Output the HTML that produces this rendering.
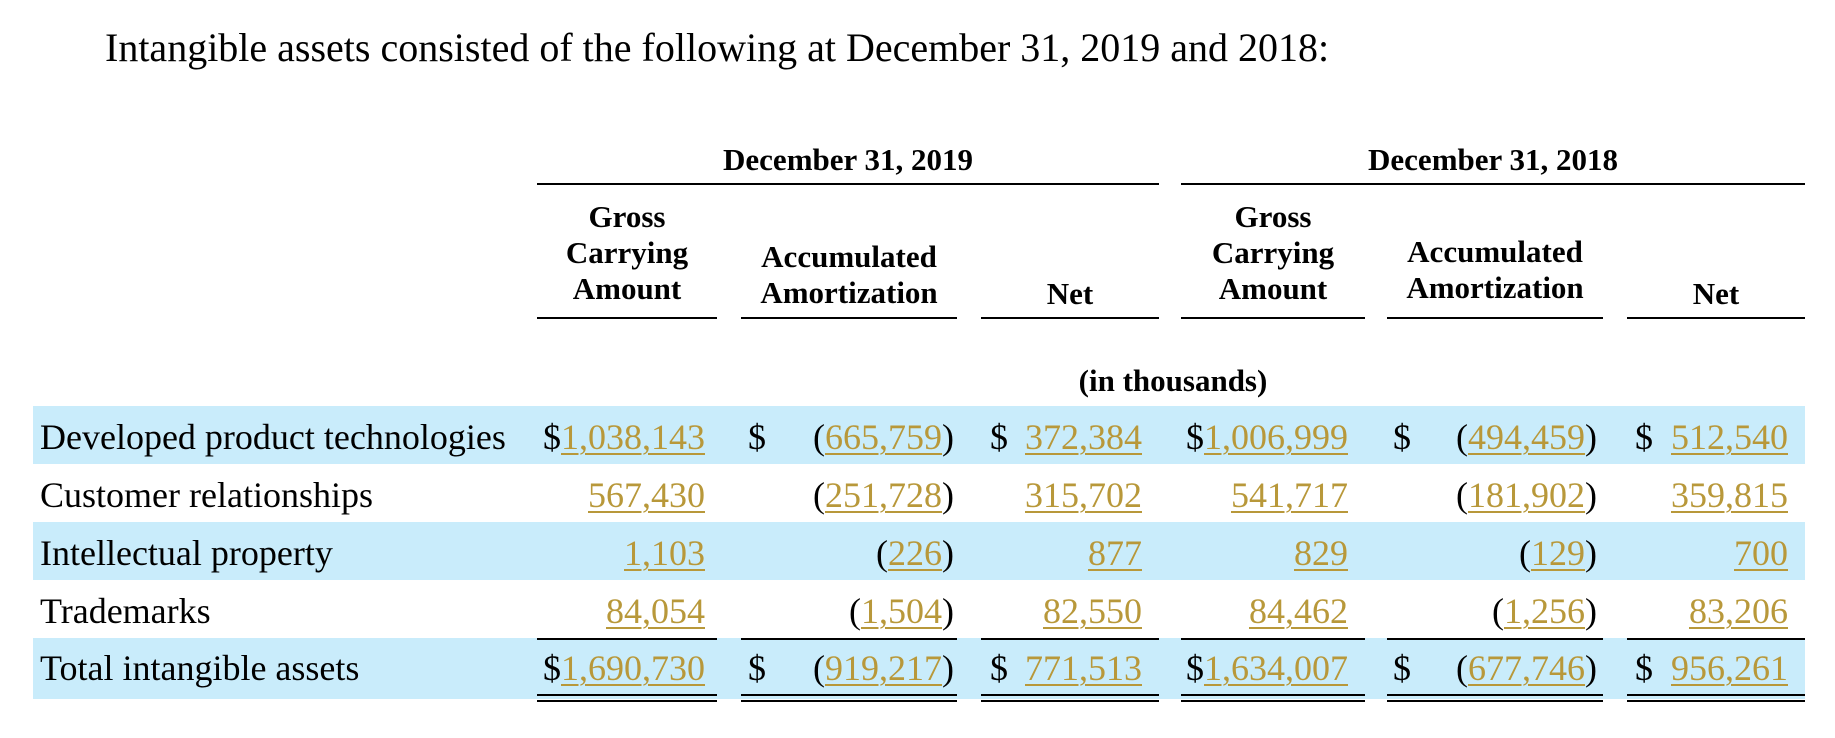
<!DOCTYPE html>
<html><head><style>
body{margin:0;width:1835px;height:738px;background:#fff;position:relative;font-family:"Liberation Serif",serif;color:#000;overflow:hidden}
.a{position:absolute;white-space:nowrap}
.t{font-size:40px;left:105px;top:24px}
.h{font-weight:bold;font-size:31px;text-align:center;line-height:36px}
.ln{position:absolute;height:2px;background:#000}
.band{position:absolute;left:33px;width:1772px;background:#c9ecfb}
.r{font-size:36px;line-height:40px}
.n{color:#b8983a;text-decoration:underline;text-decoration-thickness:2px;text-underline-offset:4px}
.v{position:absolute;text-align:right;font-size:36px;line-height:40px;white-space:nowrap}
</style></head><body>
<div class="a t">Intangible assets consisted of the following at December 31, 2019 and 2018:</div>

<div class="a h" style="left:537px;width:622px;top:142px">December 31, 2019</div>
<div class="a h" style="left:1181px;width:624px;top:142px">December 31, 2018</div>
<div class="ln" style="left:537px;width:622px;top:183px"></div>
<div class="ln" style="left:1181px;width:624px;top:183px"></div>

<div class="a h" style="left:537px;width:180px;top:199px">Gross<br>Carrying<br>Amount</div>
<div class="a h" style="left:741px;width:216px;top:239px">Accumulated<br>Amortization</div>
<div class="a h" style="left:981px;width:178px;top:276px">Net</div>
<div class="a h" style="left:1181px;width:184px;top:199px">Gross<br>Carrying<br>Amount</div>
<div class="a h" style="left:1387px;width:216px;top:234px">Accumulated<br>Amortization</div>
<div class="a h" style="left:1627px;width:178px;top:276px">Net</div>
<div class="ln" style="left:537px;width:180px;top:317px"></div>
<div class="ln" style="left:741px;width:216px;top:317px"></div>
<div class="ln" style="left:981px;width:178px;top:317px"></div>
<div class="ln" style="left:1181px;width:184px;top:317px"></div>
<div class="ln" style="left:1387px;width:216px;top:317px"></div>
<div class="ln" style="left:1627px;width:178px;top:317px"></div>
<div class="a h" style="left:1000px;width:346px;top:363px">(in thousands)</div>

<div class="band" style="top:406px;height:58px"></div>
<div class="band" style="top:522px;height:58px"></div>
<div class="band" style="top:638px;height:61px"></div>

<div class="ln" style="left:537px;width:180px;top:638px"></div>
<div class="ln" style="left:741px;width:216px;top:638px"></div>
<div class="ln" style="left:981px;width:178px;top:638px"></div>
<div class="ln" style="left:1181px;width:184px;top:638px"></div>
<div class="ln" style="left:1387px;width:216px;top:638px"></div>
<div class="ln" style="left:1627px;width:178px;top:638px"></div>
<div class="ln" style="left:537px;width:180px;top:694px"></div>
<div class="ln" style="left:741px;width:216px;top:694px"></div>
<div class="ln" style="left:981px;width:178px;top:694px"></div>
<div class="ln" style="left:1181px;width:184px;top:694px"></div>
<div class="ln" style="left:1387px;width:216px;top:694px"></div>
<div class="ln" style="left:1627px;width:178px;top:694px"></div>
<div class="ln" style="left:537px;width:180px;top:700px"></div>
<div class="ln" style="left:741px;width:216px;top:700px"></div>
<div class="ln" style="left:981px;width:178px;top:700px"></div>
<div class="ln" style="left:1181px;width:184px;top:700px"></div>
<div class="ln" style="left:1387px;width:216px;top:700px"></div>
<div class="ln" style="left:1627px;width:178px;top:700px"></div>

<!-- Row 1 -->
<div class="a r" style="left:40px;top:417px">Developed product technologies</div>
<div class="v" style="right:1130px;top:417px">$<span class="n">1,038,143</span></div>
<div class="a r" style="left:748px;top:417px">$</div>
<div class="v" style="right:881px;top:417px">(<span class="n">665,759</span>)</div>
<div class="a r" style="left:990px;top:417px">$</div>
<div class="v" style="right:693px;top:417px"><span class="n">372,384</span></div>
<div class="v" style="right:487px;top:417px">$<span class="n">1,006,999</span></div>
<div class="a r" style="left:1393px;top:417px">$</div>
<div class="v" style="right:238px;top:417px">(<span class="n">494,459</span>)</div>
<div class="a r" style="left:1635px;top:417px">$</div>
<div class="v" style="right:47px;top:417px"><span class="n">512,540</span></div>

<!-- Row 2 -->
<div class="a r" style="left:40px;top:475px">Customer relationships</div>
<div class="v" style="right:1130px;top:475px"><span class="n">567,430</span></div>
<div class="v" style="right:881px;top:475px">(<span class="n">251,728</span>)</div>
<div class="v" style="right:693px;top:475px"><span class="n">315,702</span></div>
<div class="v" style="right:487px;top:475px"><span class="n">541,717</span></div>
<div class="v" style="right:238px;top:475px">(<span class="n">181,902</span>)</div>
<div class="v" style="right:47px;top:475px"><span class="n">359,815</span></div>

<!-- Row 3 -->
<div class="a r" style="left:40px;top:533px">Intellectual property</div>
<div class="v" style="right:1130px;top:533px"><span class="n">1,103</span></div>
<div class="v" style="right:881px;top:533px">(<span class="n">226</span>)</div>
<div class="v" style="right:693px;top:533px"><span class="n">877</span></div>
<div class="v" style="right:487px;top:533px"><span class="n">829</span></div>
<div class="v" style="right:238px;top:533px">(<span class="n">129</span>)</div>
<div class="v" style="right:47px;top:533px"><span class="n">700</span></div>

<!-- Row 4 -->
<div class="a r" style="left:40px;top:591px">Trademarks</div>
<div class="v" style="right:1130px;top:591px"><span class="n">84,054</span></div>
<div class="v" style="right:881px;top:591px">(<span class="n">1,504</span>)</div>
<div class="v" style="right:693px;top:591px"><span class="n">82,550</span></div>
<div class="v" style="right:487px;top:591px"><span class="n">84,462</span></div>
<div class="v" style="right:238px;top:591px">(<span class="n">1,256</span>)</div>
<div class="v" style="right:47px;top:591px"><span class="n">83,206</span></div>

<!-- Row 5 -->
<div class="a r" style="left:40px;top:648px">Total intangible assets</div>
<div class="v" style="right:1130px;top:648px">$<span class="n">1,690,730</span></div>
<div class="a r" style="left:748px;top:648px">$</div>
<div class="v" style="right:881px;top:648px">(<span class="n">919,217</span>)</div>
<div class="a r" style="left:990px;top:648px">$</div>
<div class="v" style="right:693px;top:648px"><span class="n">771,513</span></div>
<div class="v" style="right:487px;top:648px">$<span class="n">1,634,007</span></div>
<div class="a r" style="left:1393px;top:648px">$</div>
<div class="v" style="right:238px;top:648px">(<span class="n">677,746</span>)</div>
<div class="a r" style="left:1635px;top:648px">$</div>
<div class="v" style="right:47px;top:648px"><span class="n">956,261</span></div>
</body></html>
